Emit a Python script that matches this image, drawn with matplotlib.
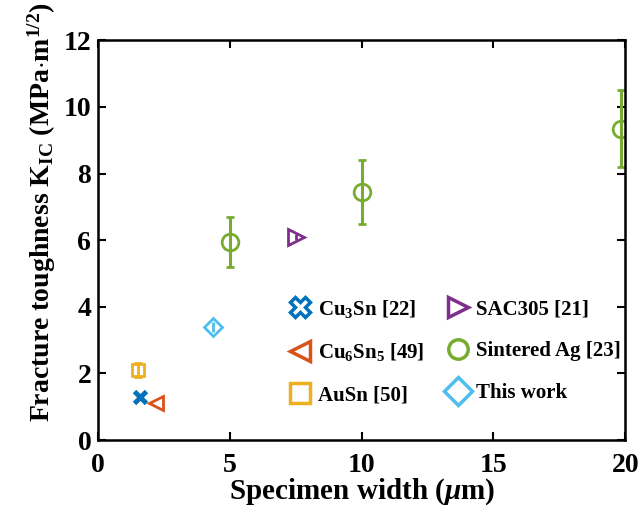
import matplotlib
matplotlib.use('Agg')
import matplotlib.pyplot as plt
from matplotlib.lines import Line2D

plt.rcParams['font.family'] = ['Liberation Serif', 'DejaVu Serif']
plt.rcParams['font.weight'] = 'bold'
plt.rcParams['mathtext.fontset'] = 'custom'
plt.rcParams['mathtext.rm'] = 'Liberation Serif:bold'
plt.rcParams['mathtext.it'] = 'Liberation Serif:italic:bold'
plt.rcParams['mathtext.bf'] = 'Liberation Serif:bold'

# data
cu3sn_x, cu3sn_y = [1.6], [1.3]
cu6sn5_x, cu6sn5_y = [2.2], [1.1]
ausn_x, ausn_y, ausn_err = [1.5], [2.1], [0.22]
sac_x, sac_y, sac_err = [7.5], [6.1], [0.08]
ag_x = [5, 10, 19.85]
ag_y = [5.95, 7.45, 9.35]
ag_err = [0.75, 0.95, 1.15]
tw_x, tw_y, tw_err = [4.35], [3.4], [0.15]

labels = ['Cu$_3$Sn [22]', 'Cu$_6$Sn$_5$ [49]', 'AuSn [50]',
          'SAC305 [21]', 'Sintered Ag [23]', 'This work']
colors = ['#0072BD', '#D95319', '#EDB120', '#7E2F8E', '#77AC30', '#4DBEEE']
markers = ['X', '<', 's', '>', 'o', 'D']

fig = plt.figure(figsize=(6.38, 5.16), dpi=100)
ax = fig.add_axes([0.154, 0.147, 0.826, 0.775])

ax.plot(cu3sn_x, cu3sn_y, 'x', color=colors[0], ms=8, mew=3.5)
ax.plot(cu6sn5_x, cu6sn5_y, '<', color=colors[1], mfc='none', ms=10, mew=2)
ax.plot(ausn_x, ausn_y, 's', color=colors[2], mfc='none', ms=9, mew=2)
ax.errorbar(ausn_x, ausn_y, yerr=ausn_err, fmt='none', ecolor=colors[2],
            elinewidth=2, capsize=3, capthick=2)
ax.plot(sac_x, sac_y, '>', color=colors[3], mfc='none', ms=11, mew=2)
ax.errorbar(sac_x, sac_y, yerr=sac_err, fmt='none', ecolor=colors[3], elinewidth=2)
ax.plot(ag_x, ag_y, 'o', color=colors[4], mfc='none', ms=12, mew=2)
ax.errorbar(ag_x, ag_y, yerr=ag_err, fmt='none', ecolor=colors[4], elinewidth=2.2,
            capsize=3, capthick=2)
ax.plot(tw_x, tw_y, 'D', color=colors[5], mfc='none', ms=9, mew=2)
ax.errorbar(tw_x, tw_y, yerr=tw_err, fmt='none', ecolor=colors[5], elinewidth=2)

ax.set_xlim(0, 20)
ax.set_ylim(0, 12)
ax.set_xticks([0, 5, 10, 15, 20])
ax.set_yticks([0, 2, 4, 6, 8, 10, 12])
ax.tick_params(direction='in', top=True, right=True, labelsize=20, width=1.5,
               length=6)
ax.tick_params(axis='x', pad=9)
ax.tick_params(axis='y', pad=5)
for s in ax.spines.values():
    s.set_linewidth(1.8)

ax.set_xlabel('Specimen width ($\\mu$m)', fontsize=21, fontweight='bold', labelpad=-1)
ax.set_ylabel('Fracture toughness K$_{\\mathrm{IC}}$ (MPa$\\cdot$m$^{1/2}$)',
              fontsize=20, fontweight='bold')
ax.yaxis.set_label_coords(-0.077, 0.57)

handles = [Line2D([], [], ls='none', marker=m, color=c, mfc='none', ms=14, mew=2.5)
           for m, c in zip(markers, colors)]
ax.legend(handles, labels, ncol=2, frameon=False,
          loc='lower left', bbox_to_anchor=(0.340, 0.061), borderpad=0,
          handletextpad=0.25, columnspacing=1.0, labelspacing=1.05,
          handlelength=1.2, prop={'weight': 'bold', 'size': 15})

fig.savefig('out.png', dpi=100)
